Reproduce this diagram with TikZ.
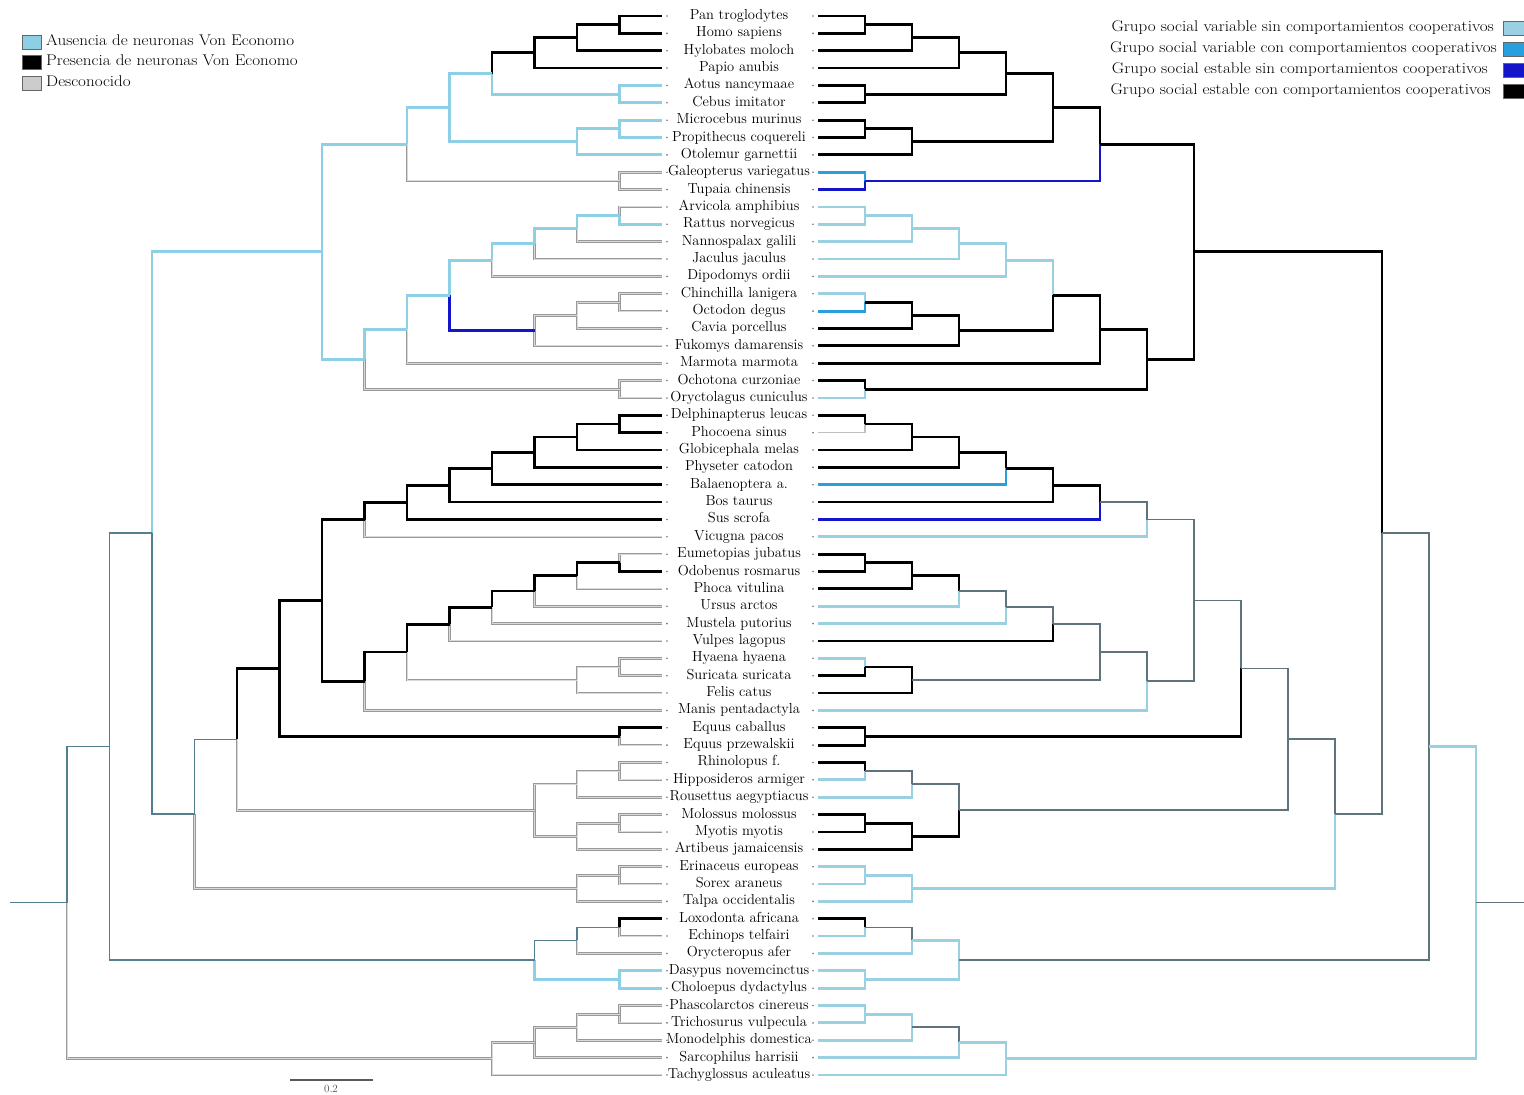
\documentclass[tikz,border=0pt]{standalone}
\usepackage{fontspec}
\usetikzlibrary{calc}

\definecolor{vonabs}{RGB}{141,207,228}
\definecolor{vonmix}{RGB}{84,127,145}
\definecolor{socvs}{RGB}{155,208,226}
\definecolor{socvc}{RGB}{40,160,222}
\definecolor{socES}{RGB}{20,20,200}
\definecolor{socmix}{RGB}{95,115,125}

\tikzset{
  vAus/.style={draw=vonabs, line width=2.8pt},
  vPres/.style={draw=black, line width=2.8pt},
  vUnk/.style={draw=black!40, double=black!15, double distance=1pt, line width=0.8pt},
  vMix/.style={draw=vonmix, line width=1.6pt},
  sVarSin/.style={draw=socvs, line width=2.8pt},
  sVarCon/.style={draw=socvc, line width=2.8pt},
  sEstSin/.style={draw=socES, line width=2.8pt},
  sEstCon/.style={draw=black, line width=2.8pt},
  sMix/.style={draw=socmix, line width=1.8pt},
  sUnk/.style={draw=black!25, line width=1.4pt},
  taxname/.style={font=\fontsize{14.5}{16}\selectfont, inner sep=0pt, text height=10pt, text depth=3pt},
  leafdot/.style={fill=black!55},
  legtext/.style={font=\fontsize{15.5}{17}\selectfont, inner sep=0pt, text height=10pt, text depth=3pt},
  legbox/.style={draw=black!60, line width=1pt, minimum width=19pt, minimum height=14pt, inner sep=0pt},
}

% legend lines are set a little wider
\newcommand{\legwide}[1]{\scalebox{1.1}[1]{#1}}

% one species: leaf points of both trees, name in the middle
\newcommand{\taxon}[3]{%
  \coordinate (L#1) at (662,{16+17.36*#2});
  \coordinate (R#1) at (818,{16+17.36*#2});
  \node[taxname] (N#1) at (739,{16+17.36*#2}) {#3};
  \fill[leafdot] (667,{16+17.36*#2}) circle (0.9pt);
  \fill[leafdot] (813,{16+17.36*#2}) circle (0.9pt);}

% one clade: name, level, two children, left colours, right colours
\newcommand{\cladeLR}[8]{%
  \path let \p1=(L#3), \p2=(L#4) in
    coordinate (L#1) at ({(662-42.5*#2)*1pt},{(\y1+\y2)/2})
    coordinate (R#1) at ({(818+47*#2)*1pt},{(\y1+\y2)/2});
  \draw[#5] (L#1) |- (L#3);
  \draw[#6] (L#1) |- (L#4);
  \draw[#7] (R#1) |- (R#3);
  \draw[#8] (R#1) |- (R#4);}

\begin{document}
\begin{tikzpicture}[x=1pt,y=-1pt]
\useasboundingbox (0,0) rectangle (1524,1095);

% species
\taxon{pan}{0}{Pan troglodytes}
\taxon{homo}{1}{Homo sapiens}
\taxon{hylo}{2}{Hylobates moloch}
\taxon{papio}{3}{Papio anubis}
\taxon{aotus}{4}{Aotus nancymaae}
\taxon{cebus}{5}{Cebus imitator}
\taxon{micro}{6}{Microcebus murinus}
\taxon{prop}{7}{Propithecus coquereli}
\taxon{otol}{8}{Otolemur garnettii}
\taxon{galeo}{9}{Galeopterus variegatus}
\taxon{tupaia}{10}{Tupaia chinensis}
\taxon{arvi}{11}{Arvicola amphibius}
\taxon{rattus}{12}{Rattus norvegicus}
\taxon{nanno}{13}{Nannospalax galili}
\taxon{jacu}{14}{Jaculus jaculus}
\taxon{dipo}{15}{Dipodomys ordii}
\taxon{chin}{16}{Chinchilla lanigera}
\taxon{octo}{17}{Octodon degus}
\taxon{cavia}{18}{Cavia porcellus}
\taxon{fuko}{19}{Fukomys damarensis}
\taxon{marmota}{20}{Marmota marmota}
\taxon{ocho}{21}{Ochotona curzoniae}
\taxon{oryc}{22}{Oryctolagus cuniculus}
\taxon{delph}{23}{Delphinapterus leucas}
\taxon{phoc}{24}{Phocoena sinus}
\taxon{globi}{25}{Globicephala melas}
\taxon{phys}{26}{Physeter catodon}
\taxon{bala}{27}{Balaenoptera a.}
\taxon{bos}{28}{Bos taurus}
\taxon{sus}{29}{Sus scrofa}
\taxon{vicu}{30}{Vicugna pacos}
\taxon{eume}{31}{Eumetopias jubatus}
\taxon{odob}{32}{Odobenus rosmarus}
\taxon{phoca}{33}{Phoca vitulina}
\taxon{ursus}{34}{Ursus arctos}
\taxon{must}{35}{Mustela putorius}
\taxon{vulp}{36}{Vulpes lagopus}
\taxon{hyae}{37}{Hyaena hyaena}
\taxon{suri}{38}{Suricata suricata}
\taxon{felis}{39}{Felis catus}
\taxon{manis}{40}{Manis pentadactyla}
\taxon{equc}{41}{Equus caballus}
\taxon{equp}{42}{Equus przewalskii}
\taxon{rhin}{43}{Rhinolopus f.}
\taxon{hipp}{44}{Hipposideros armiger}
\taxon{rous}{45}{Rousettus aegyptiacus}
\taxon{molo}{46}{Molossus molossus}
\taxon{myot}{47}{Myotis myotis}
\taxon{arti}{48}{Artibeus jamaicensis}
\taxon{erin}{49}{Erinaceus europeas}
\taxon{sorex}{50}{Sorex araneus}
\taxon{talpa}{51}{Talpa occidentalis}
\taxon{loxo}{52}{Loxodonta africana}
\taxon{echi}{53}{Echinops telfairi}
\taxon{aard}{54}{Orycteropus afer}
\taxon{dasy}{55}{Dasypus novemcinctus}
\taxon{chol}{56}{Choloepus dydactylus}
\taxon{phas}{57}{Phascolarctos cinereus}
\taxon{tric}{58}{Trichosurus vulpecula}
\taxon{mono}{59}{Monodelphis domestica}
\taxon{sarc}{60}{Sarcophilus harrisii}
\taxon{tach}{61}{Tachyglossus aculeatus}

% Euarchontoglires
\cladeLR{ph}{1}{pan}{homo}{vPres}{vPres}{sEstCon}{sEstCon}
\cladeLR{phh}{2}{ph}{hylo}{vPres}{vPres}{sEstCon}{sEstCon}
\cladeLR{ape}{3}{phh}{papio}{vPres}{vPres}{sEstCon}{sEstCon}
\cladeLR{nwm}{1}{aotus}{cebus}{vAus}{vAus}{sEstCon}{sEstCon}
\cladeLR{anth}{4}{ape}{nwm}{vPres}{vAus}{sEstCon}{sEstCon}
\cladeLR{mp}{1}{micro}{prop}{vAus}{vAus}{sEstCon}{sEstCon}
\cladeLR{strep}{2}{mp}{otol}{vAus}{vAus}{sEstCon}{sEstCon}
\cladeLR{prim}{5}{anth}{strep}{vAus}{vAus}{sEstCon}{sEstCon}
\cladeLR{gt}{1}{galeo}{tupaia}{vUnk}{vUnk}{sVarCon}{sEstSin}
\cladeLR{euar}{6}{prim}{gt}{vAus}{vUnk}{sEstCon}{sEstSin}
\cladeLR{ar}{1}{arvi}{rattus}{vUnk}{vAus}{sVarSin}{sVarSin}
\cladeLR{arn}{2}{ar}{nanno}{vAus}{vUnk}{sVarSin}{sVarSin}
\cladeLR{arnj}{3}{arn}{jacu}{vAus}{vUnk}{sVarSin}{sVarSin}
\cladeLR{mous}{4}{arnj}{dipo}{vAus}{vUnk}{sVarSin}{sVarSin}
\cladeLR{co}{1}{chin}{octo}{vUnk}{vUnk}{sVarSin}{sVarCon}
\cladeLR{coc}{2}{co}{cavia}{vUnk}{vUnk}{sEstCon}{sEstCon}
\cladeLR{cocf}{3}{coc}{fuko}{vUnk}{vUnk}{sEstCon}{sEstCon}
\cladeLR{mc}{5}{mous}{cocf}{vAus}{sEstSin}{sVarSin}{sEstCon}
\cladeLR{rod}{6}{mc}{marmota}{vAus}{vUnk}{sEstCon}{sEstCon}
\cladeLR{oo}{1}{ocho}{oryc}{vUnk}{vUnk}{sEstCon}{sVarSin}
\cladeLR{glir}{7}{rod}{oo}{vAus}{vUnk}{sEstCon}{sEstCon}
\cladeLR{eag}{8}{euar}{glir}{vAus}{vAus}{sEstCon}{sEstCon}

% Laurasiatheria
\cladeLR{dp}{1}{delph}{phoc}{vPres}{vPres}{sEstCon}{sUnk}
\cladeLR{dpg}{2}{dp}{globi}{vPres}{vPres}{sEstCon}{sEstCon}
\cladeLR{dpgp}{3}{dpg}{phys}{vPres}{vPres}{sEstCon}{sEstCon}
\cladeLR{whal}{4}{dpgp}{bala}{vPres}{vPres}{sEstCon}{sVarCon}
\cladeLR{wb}{5}{whal}{bos}{vPres}{vPres}{sEstCon}{sEstCon}
\cladeLR{ws}{6}{wb}{sus}{vPres}{vPres}{sEstCon}{sEstSin}
\cladeLR{cet}{7}{ws}{vicu}{vPres}{vUnk}{sMix}{sVarSin}
\cladeLR{eo}{1}{eume}{odob}{vUnk}{vPres}{sEstCon}{sEstCon}
\cladeLR{eop}{2}{eo}{phoca}{vPres}{vUnk}{sEstCon}{sEstCon}
\cladeLR{eopu}{3}{eop}{ursus}{vPres}{vUnk}{sEstCon}{sVarSin}
\cladeLR{eopum}{4}{eopu}{must}{vPres}{vUnk}{sMix}{sVarSin}
\cladeLR{cani}{5}{eopum}{vulp}{vPres}{vUnk}{sMix}{sEstCon}
\cladeLR{hs}{1}{hyae}{suri}{vUnk}{vUnk}{sVarSin}{sEstCon}
\cladeLR{hsf}{2}{hs}{felis}{vUnk}{vUnk}{sEstCon}{sEstCon}
\cladeLR{carn}{6}{cani}{hsf}{vPres}{vUnk}{sMix}{sMix}
\cladeLR{fera}{7}{carn}{manis}{vPres}{vUnk}{sMix}{sVarSin}
\cladeLR{cf}{8}{cet}{fera}{vPres}{vPres}{sMix}{sMix}
\cladeLR{equ}{1}{equc}{equp}{vPres}{vUnk}{sEstCon}{sEstCon}
\cladeLR{nine}{9}{cf}{equ}{vPres}{vPres}{sMix}{sEstCon}
\cladeLR{rh}{1}{rhin}{hipp}{vUnk}{vUnk}{sEstCon}{sVarSin}
\cladeLR{rhr}{2}{rh}{rous}{vUnk}{vUnk}{sMix}{sVarSin}
\cladeLR{mm}{1}{molo}{myot}{vUnk}{vUnk}{sEstCon}{sEstCon}
\cladeLR{mma}{2}{mm}{arti}{vUnk}{vUnk}{sEstCon}{sEstCon}
\cladeLR{bats}{3}{rhr}{mma}{vUnk}{vUnk}{sMix}{sEstCon}
\cladeLR{laur}{10}{nine}{bats}{vPres}{vUnk}{sMix}{sMix}
\cladeLR{es}{1}{erin}{sorex}{vUnk}{vUnk}{sVarSin}{sVarSin}
\cladeLR{est}{2}{es}{talpa}{vUnk}{vUnk}{sVarSin}{sVarSin}
\cladeLR{eleven}{11}{laur}{est}{vMix}{vUnk}{sMix}{sVarSin}
\cladeLR{boreo}{12}{eag}{eleven}{vAus}{vMix}{sEstCon}{sMix}

% Atlantogenata, marsupials, root
\cladeLR{le}{1}{loxo}{echi}{vPres}{vUnk}{sEstCon}{sVarSin}
\cladeLR{afro}{2}{le}{aard}{vMix}{vUnk}{sMix}{sVarSin}
\cladeLR{xen}{1}{dasy}{chol}{vAus}{vAus}{sVarSin}{sVarSin}
\cladeLR{atl}{3}{afro}{xen}{vMix}{vAus}{sVarSin}{sVarSin}
\cladeLR{plac}{13}{boreo}{atl}{vMix}{vMix}{sMix}{sMix}
\cladeLR{pt}{1}{phas}{tric}{vUnk}{vUnk}{sVarSin}{sVarSin}
\cladeLR{ptm}{2}{pt}{mono}{vUnk}{vUnk}{sVarSin}{sVarSin}
\cladeLR{ptms}{3}{ptm}{sarc}{vUnk}{vUnk}{sMix}{sVarSin}
\cladeLR{mars}{4}{ptms}{tach}{vUnk}{vUnk}{sVarSin}{sVarSin}
\cladeLR{root}{14}{plac}{mars}{vMix}{vUnk}{sVarSin}{sVarSin}

\path let \p1=(Lroot) in coordinate (Lstem) at (10pt,\y1);
\path let \p1=(Rroot) in coordinate (Rstem) at (1524pt,\y1);
\draw[vMix] (Lstem) -- (Lroot);
\draw[sMix] (Rroot) -- (Rstem);

% scale bar
\coordinate (sbA) at (290,1080);
\coordinate (sbB) at (373,1080);
\draw[black!65, line width=1.2pt] (sbA) -- (sbB);
\node[font=\fontsize{11}{12}\selectfont, text=black!70] (sbT) at (331,1089) {0.2};

% legend, left
\node[legbox, fill=vonabs] (kAus) at (32,42) {};
\node[legbox, fill=black] (kPres) at (32,62) {};
\node[legbox, fill=black!20] (kUnk) at (32,83) {};
\node[legtext, anchor=west] (tAus) at (46,42) {\legwide{Ausencia de neuronas Von Economo}};
\node[legtext, anchor=west] (tPres) at (46,62) {\legwide{Presencia de neuronas Von Economo}};
\node[legtext, anchor=west] (tUnk) at (46,83) {\legwide{Desconocido}};

% legend, right
\node[legbox, fill=socvs, minimum width=22pt] (kVS) at (1514,28) {};
\node[legbox, fill=socvc, minimum width=22pt] (kVC) at (1514,49) {};
\node[legbox, fill=socES, minimum width=22pt] (kES) at (1514,70) {};
\node[legbox, fill=black, minimum width=22pt] (kEC) at (1514,91) {};
\node[legtext, anchor=east] (tVS) at (1494,28) {\legwide{Grupo social variable sin comportamientos cooperativos}};
\node[legtext, anchor=east] (tVC) at (1497,49) {\legwide{Grupo social variable con comportamientos cooperativos}};
\node[legtext, anchor=east] (tES) at (1488,70) {\legwide{Grupo social estable sin comportamientos cooperativos}};
\node[legtext, anchor=east] (tEC) at (1491,91) {\legwide{Grupo social estable con comportamientos cooperativos}};
\end{tikzpicture}
\end{document}
